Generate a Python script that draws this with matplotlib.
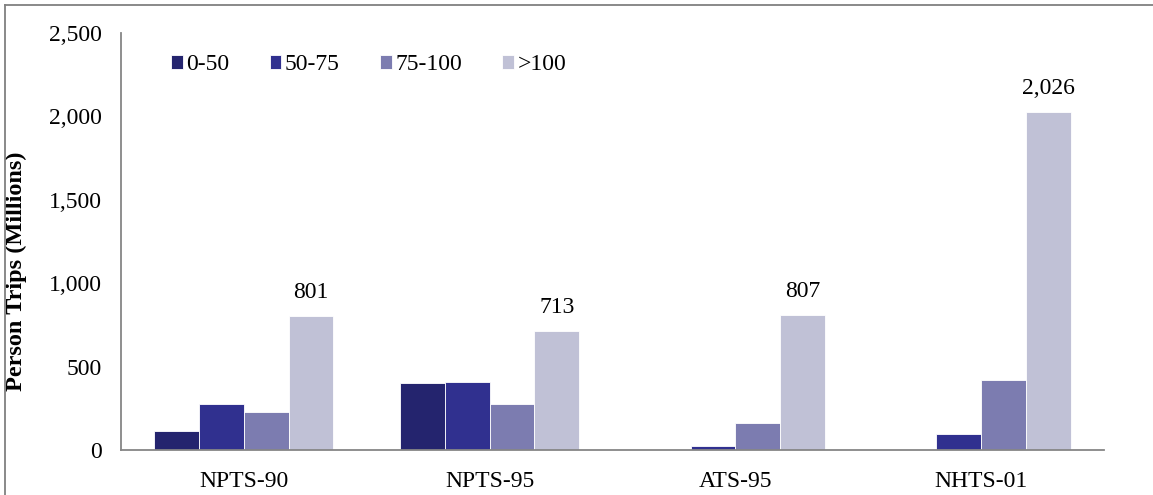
import matplotlib
matplotlib.use("Agg")
import matplotlib.pyplot as plt
import numpy as np
from matplotlib.lines import Line2D

categories = ["NPTS-90", "NPTS-95", "ATS-95", "NHTS-01"]
series_names = ["0-50", "50-75", "75-100", ">100"]
v_0_50 = [116, 403, 0, 0]
v_50_75 = [277, 409, 23, 95]
v_75_100 = [225, 273, 160, 420]
v_gt100 = [801, 713, 807, 2026]
series_values = [v_0_50, v_50_75, v_75_100, v_gt100]
colors = ["#24246E", "#30308F", "#7C7CB0", "#C0C1D6"]
y_ticks = [0, 500, 1000, 1500, 2000, 2500]
y_tick_labels = ["0", "500", "1,000", "1,500", "2,000", "2,500"]

plt.rcParams["font.family"] = ["Liberation Serif", "DejaVu Serif"]

W, H = 1153, 495
top_px, bot_px, left_px, right_px = 33, 450, 121, 1104
fig = plt.figure(figsize=(W / 100, H / 100), dpi=100)
ax = fig.add_axes([left_px / W, 1 - bot_px / H, (right_px - left_px) / W, (bot_px - top_px) / H])

x = np.arange(len(categories))
w = 0.182
for i, (name, vals, c) in enumerate(zip(series_names, series_values, colors)):
    ax.bar(x + (i - 1.5) * w, vals, width=w, color=c, label=name,
           edgecolor="white", linewidth=0.6, zorder=2)
    if i == 3:
        for xi, v in zip(x + (i - 1.5) * w, vals):
            ax.annotate(f"{v:,}", (xi, v), xytext=(0, 17), textcoords="offset points",
                        ha="center", va="center", fontsize=17)

ax.set_xlim(-0.5, len(categories) - 0.5)
ax.set_ylim(0, 2500)
ax.set_xticks(x)
ax.set_xticklabels(categories, fontsize=17)
ax.set_yticks(y_ticks)
ax.set_yticklabels(y_tick_labels, fontsize=17)
ax.tick_params(axis="both", length=0)
ax.tick_params(axis="y", pad=14)
ax.tick_params(axis="x", pad=15)
for s in ["top", "right"]:
    ax.spines[s].set_visible(False)
for s in ["left", "bottom"]:
    ax.spines[s].set_color("#868686")
    ax.spines[s].set_linewidth(1.3)
ax.set_ylabel("Person Trips (Millions)", fontsize=17.5, fontweight="bold")
ax.yaxis.set_label_coords(-(left_px - 27) / (right_px - left_px), (bot_px - 271) / (bot_px - top_px))

ax.legend(loc="center left", bbox_to_anchor=(50 / (right_px - left_px), (bot_px - 65) / (bot_px - top_px)),
          ncol=4, frameon=False, fontsize=17, handlelength=0.5, handleheight=0.5,
          handletextpad=0.15, columnspacing=1.7, borderpad=0, borderaxespad=0)

# outer border (top and left visible)
fig.add_artist(Line2D([5 / W, 1], [1 - 5 / H, 1 - 5 / H], color="#808080", lw=1.3,
                      transform=fig.transFigure))
fig.add_artist(Line2D([5 / W, 5 / W], [0, 1 - 5 / H], color="#808080", lw=1.3,
                      transform=fig.transFigure))

fig.savefig("out.png", dpi=100)
